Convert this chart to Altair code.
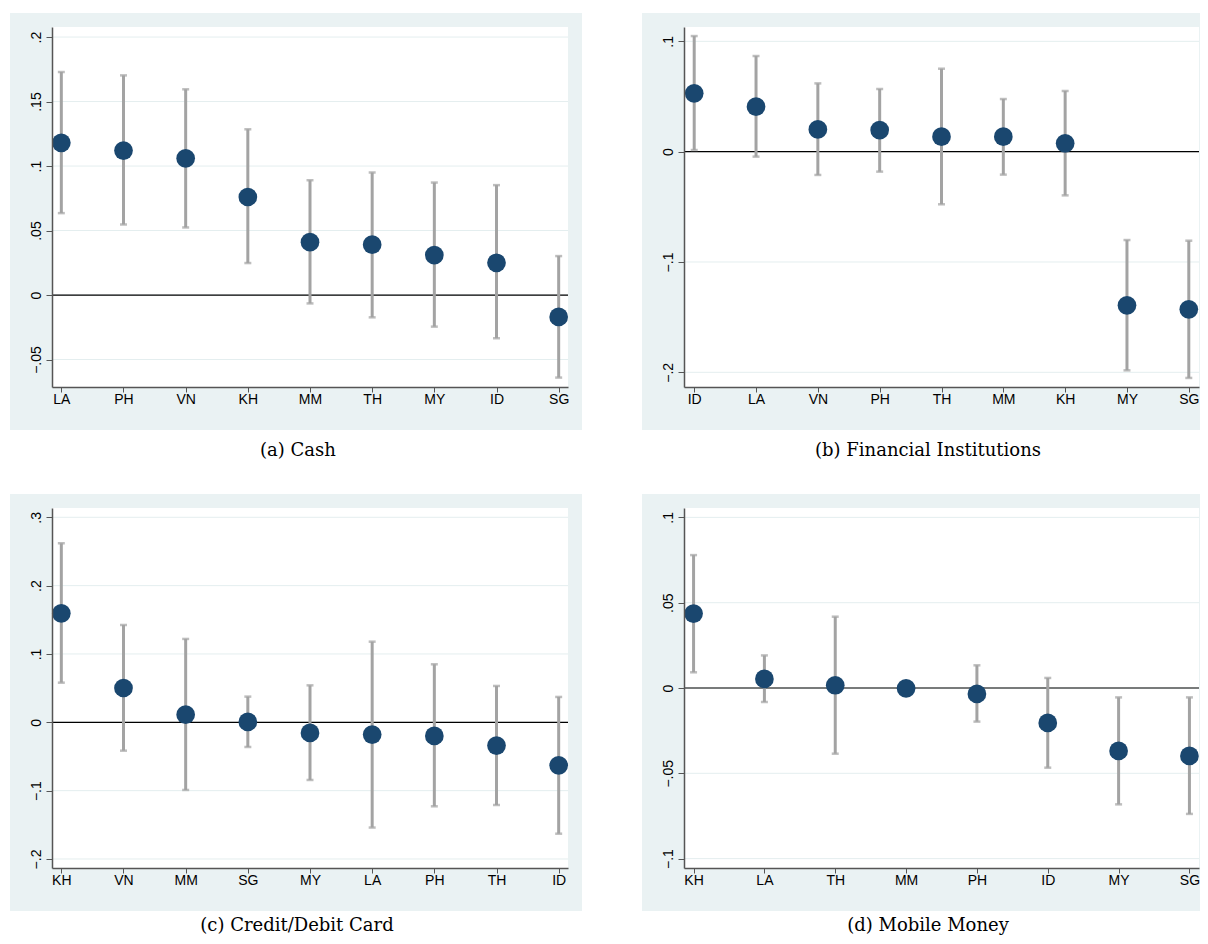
import altair as alt
import pandas as pd

# ---- data ----
cash_cats = ["LA", "PH", "VN", "KH", "MM", "TH", "MY", "ID", "SG"]
cash_est = [0.118, 0.112, 0.106, 0.076, 0.041, 0.039, 0.031, 0.025, -0.017]
cash_lo = [0.0635, 0.0547, 0.0524, 0.0248, -0.0065, -0.0173, -0.0245, -0.0335, -0.064]
cash_hi = [0.1729, 0.1703, 0.1595, 0.1285, 0.089, 0.095, 0.0872, 0.0852, 0.0302]

fi_cats = ["ID", "LA", "VN", "PH", "TH", "MM", "KH", "MY", "SG"]
fi_est = [0.0529, 0.0408, 0.0202, 0.0196, 0.0136, 0.0136, 0.0076, -0.1393, -0.1429]
fi_lo = [0.0015, -0.0045, -0.0211, -0.0181, -0.0477, -0.0208, -0.0396, -0.1982, -0.2051]
fi_hi = [0.1048, 0.0867, 0.0619, 0.0568, 0.0752, 0.0477, 0.055, -0.0801, -0.0807]

card_cats = ["KH", "VN", "MM", "SG", "MY", "LA", "PH", "TH", "ID"]
card_est = [0.1595, 0.0502, 0.0112, 0.0005, -0.0156, -0.018, -0.02, -0.0341, -0.0629]
card_lo = [0.058, -0.0415, -0.099, -0.0361, -0.0844, -0.154, -0.1229, -0.121, -0.163]
card_hi = [0.262, 0.1424, 0.122, 0.0376, 0.0541, 0.118, 0.0849, 0.0532, 0.0371]

mm_cats = ["KH", "LA", "TH", "MM", "PH", "ID", "MY", "SG"]
mm_est = [0.0436, 0.0053, 0.0016, -0.0002, -0.0035, -0.0205, -0.0369, -0.0398]
mm_lo = [0.0092, -0.0082, -0.0385, -0.0025, -0.0197, -0.0467, -0.0682, -0.0738]
mm_hi = [0.0779, 0.0191, 0.0418, 0.0022, 0.0133, 0.0059, -0.0055, -0.0055]

cash_ticks = [-0.05, 0, 0.05, 0.1, 0.15, 0.2]
fi_ticks = [-0.2, -0.1, 0, 0.1]
card_ticks = [-0.2, -0.1, 0, 0.1, 0.2, 0.3]
mm_ticks = [-0.1, -0.05, 0, 0.05, 0.1]

captions = ["(a) Cash", "(b) Financial Institutions", "(c) Credit/Debit Card", "(d) Mobile Money"]

BG = "#eaf2f3"
NAVY = "#1a476f"
BARGREY = "#a3a3a3"
H = 360


def panel(cats, est, lo, hi, ydom, yticks, caption, width, pad, gl, gr, capx, capy):
    df = pd.DataFrame({"country": cats, "est": est, "lo": lo, "hi": hi})
    one = pd.DataFrame({"c": [caption]})
    grid_df = pd.DataFrame({"v": yticks})

    xs = alt.Scale(type="point", domain=cats, padding=pad)
    ys = alt.Scale(domain=ydom, nice=False, zero=False)

    xaxis = alt.Axis(title=None, labelAngle=0, labelFont="Liberation Sans", labelFontSize=14,
                     labelColor="#000000", domainColor="#555555", domainWidth=1.5,
                     tickColor="#555555", tickSize=5, tickWidth=1, labelPadding=0,
                     grid=False, zindex=1)
    yaxis = alt.Axis(title=None, values=yticks, format="~g",
                     labelExpr="replace(datum.label, '0.', '.')",
                     labelAngle=270, labelAlign="center", labelBaseline="bottom",
                     labelFont="Liberation Sans", labelFontSize=14, labelColor="#000000",
                     domainColor="#555555", domainWidth=1.5, tickColor="#555555",
                     tickSize=6, tickWidth=1, labelPadding=3, grid=False, zindex=1)

    grey = alt.Chart(one).mark_rect(color=BG).encode(
        x=alt.value(gl), x2=alt.value(width + gr), y=alt.value(-14), y2=alt.value(H + 43))
    white = alt.Chart(one).mark_rect(color="#ffffff").encode(
        x=alt.value(0), x2=alt.value(width), y=alt.value(0), y2=alt.value(H))
    cap = alt.Chart(one).mark_text(font="DejaVu Serif", fontSize=18, color="#000000",
                                   baseline="middle", align="center").encode(
        text="c:N", x=alt.value(capx), y=alt.value(H + capy))

    grid = alt.Chart(grid_df).mark_rule(color="#e4eeef", strokeWidth=1).encode(
        y=alt.Y("v:Q", scale=ys, axis=yaxis))
    zero = alt.Chart(pd.DataFrame({"v": [0]})).mark_rule(color="#000000", strokeWidth=1.2).encode(
        y=alt.Y("v:Q", scale=ys))

    x_enc = alt.X("country:N", scale=xs, axis=xaxis, sort=cats)
    bars = alt.Chart(df).mark_rule(color=BARGREY, strokeWidth=3).encode(
        x=x_enc, y=alt.Y("lo:Q", scale=ys), y2="hi:Q")
    cap_lo = alt.Chart(df).mark_tick(color=BARGREY, orient="horizontal", size=7, thickness=2.5).encode(
        x=x_enc, y=alt.Y("lo:Q", scale=ys))
    cap_hi = alt.Chart(df).mark_tick(color=BARGREY, orient="horizontal", size=7, thickness=2.5).encode(
        x=x_enc, y=alt.Y("hi:Q", scale=ys))
    pts = alt.Chart(df).mark_circle(color=NAVY, opacity=1, size=350).encode(
        x=x_enc, y=alt.Y("est:Q", scale=ys))

    return alt.layer(grey, white, cap, grid, zero, bars, cap_lo, cap_hi, pts).properties(
        width=width, height=H)


pa = panel(cash_cats, cash_est, cash_lo, cash_hi, [-0.0713, 0.2078], cash_ticks, captions[0],
           516, 0.15, -42, 14, 246, 64)
pb = panel(fi_cats, fi_est, fi_lo, fi_hi, [-0.2133, 0.113], fi_ticks, captions[1],
           515, 0.165, -42, 1, 244, 64)
pc = panel(card_cats, card_est, card_lo, card_hi, [-0.2132, 0.3136], card_ticks, captions[2],
           516, 0.15, -42, 14, 245, 58)
pd_ = panel(mm_cats, mm_est, mm_lo, mm_hi, [-0.1055, 0.1055], mm_ticks, captions[3],
            515, 0.135, -42, 1, 244, 58)

row1 = alt.hconcat(pa, pb, spacing=60)
row2 = alt.hconcat(pc, pd_, spacing=60)
chart = alt.vconcat(row1, row2, spacing=34).properties(
    padding={"left": 2, "top": 5, "right": 0, "bottom": 0},
    background="#ffffff",
).configure_view(strokeWidth=0)

chart.save("out.html", embed_options={"renderer": "svg", "actions": False})
